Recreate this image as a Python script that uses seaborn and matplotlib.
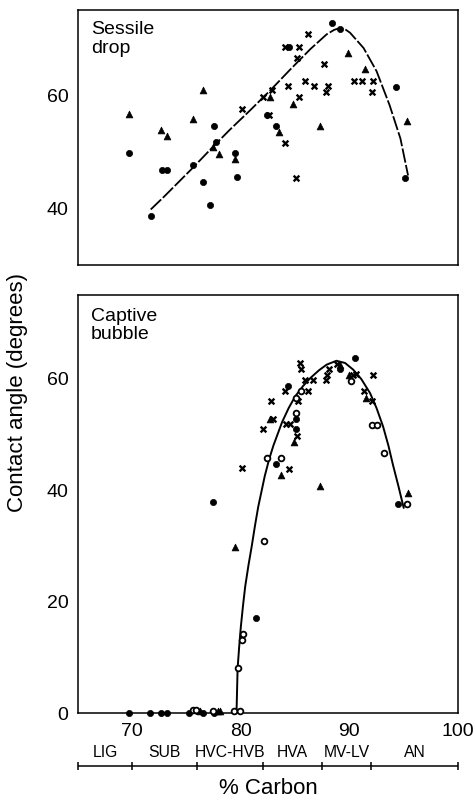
import matplotlib
matplotlib.use("Agg")
import matplotlib.pyplot as plt
import seaborn as sns

sns.set_style("white")
plt.rcParams['font.family'] = ['Liberation Sans', 'DejaVu Sans']
plt.rcParams['text.color'] = 'black'
plt.rcParams['axes.labelcolor'] = 'black'
plt.rcParams['xtick.color'] = 'black'
plt.rcParams['ytick.color'] = 'black'

# ---------------- Sessile drop (top panel) ----------------
sd_tri_x = [69.7, 72.6, 73.2, 75.6, 76.5, 77.4, 78.0, 79.5, 82.7, 83.5, 84.8, 87.3, 89.9, 91.4, 95.3]
sd_tri_y = [56.6, 53.75, 52.7, 55.7, 60.8, 50.8, 49.6, 48.7, 59.6, 53.4, 58.5, 54.5, 67.4, 64.6, 55.4]

sd_dot_x = [69.7, 71.7, 72.7, 73.2, 75.6, 76.5, 77.2, 77.5, 77.7, 79.5, 79.6, 82.4, 83.2, 84.4, 88.4, 89.1, 94.3, 95.1]
sd_dot_y = [49.7, 38.7, 46.7, 46.7, 47.7, 44.6, 40.6, 54.6, 51.7, 49.8, 45.5, 56.5, 54.5, 68.5, 72.7, 71.7, 61.4, 45.3]

sd_cross_x = [80.1, 82.0, 82.6, 82.9, 84.1, 84.1, 84.3, 85.05, 85.2, 85.4, 85.4, 85.9, 86.2, 86.7,
              87.7, 87.8, 88.05, 90.4, 91.2, 92.2, 92.05]
sd_cross_y = [57.5, 59.6, 56.5, 60.8, 68.5, 51.5, 61.6, 45.4, 66.55, 68.5, 59.6, 62.55, 70.7, 61.6,
              65.5, 60.6, 61.6, 62.55, 62.55, 62.55, 60.5]

sd_curve_x = [71.7, 73.0, 75.6, 77.3, 79.0, 80.8, 82.7, 84.5, 86.4, 87.9, 88.6, 89.1, 89.6, 90.05,
              91.3, 92.5, 93.7, 94.7, 95.4]
sd_curve_y = [39.8, 42.2, 47.2, 50.6, 53.9, 57.2, 60.8, 64.4, 68.1, 70.7, 71.5, 71.8, 71.6, 71.0,
              68.3, 64.2, 58.2, 52.3, 45.8]

# ---------------- Captive bubble (bottom panel) ----------------
cb_dot_x = [69.7, 71.6, 72.6, 73.2, 75.2, 76.0, 76.5, 77.5, 77.4, 81.4, 83.2, 84.3, 85.05, 85.05,
            89.1, 90.5, 94.5]
cb_dot_y = [0.0, 0.0, 0.0, 0.0, 0.0, 0.3, 0.0, 0.0, 37.9, 17.1, 44.7, 58.7, 52.7, 50.9,
            61.7, 63.7, 37.5]

cb_open_x = [75.6, 75.9, 77.4, 79.4, 79.9, 79.7, 80.1, 80.2, 82.1, 82.4, 83.7, 85.05, 85.1, 85.5,
             90.1, 92.1, 92.5, 93.2, 95.3]
cb_open_y = [0.5, 0.6, 0.4, 0.3, 0.3, 8.0, 13.1, 14.1, 30.8, 45.7, 45.8, 53.8, 56.6, 57.7,
             59.6, 51.7, 51.7, 46.6, 37.5]

cb_tri_x = [76.2, 77.9, 78.1, 79.5, 82.7, 83.7, 84.9, 87.3, 89.1, 90.0, 91.5, 95.4]
cb_tri_y = [0.3, 0.3, 0.4, 29.7, 52.8, 42.7, 48.7, 40.8, 62.4, 60.6, 56.5, 39.5]

cb_cross_x = [80.1, 82.0, 82.75, 82.95, 84.1, 84.2, 84.4, 84.5, 85.2, 85.3, 85.45, 85.5, 85.9,
              86.2, 86.6, 87.8, 87.95, 88.1, 88.9, 90.35, 90.6, 91.3, 92.05, 92.2]
cb_cross_y = [43.9, 50.9, 55.9, 52.8, 57.7, 51.8, 43.7, 51.8, 49.7, 55.9, 62.8, 61.7, 59.7,
              57.7, 59.8, 59.7, 60.7, 61.7, 62.6, 60.7, 60.8, 57.7, 55.9, 60.7]

cb_curve_x = [79.6, 79.7, 79.85, 80.0, 80.2, 80.4, 80.7, 81.0, 81.3, 81.6, 82.2, 82.6, 83.0,
              83.8, 84.4, 85.0, 85.7, 86.4, 87.2, 87.9, 88.8, 89.6, 90.35, 91.1, 91.9,
              92.5, 93.1, 93.6, 94.0, 94.5, 95.0]
cb_curve_y = [0.0, 8.0, 12.0, 15.5, 19.3, 22.7, 26.5, 29.9, 33.6, 37.0, 42.5, 45.5, 48.0,
              52.2, 54.7, 56.8, 58.6, 60.1, 61.5, 62.5, 63.2, 62.8, 61.6, 59.9, 57.4,
              54.7, 51.4, 47.9, 44.6, 40.8, 36.8]

# ---------------- Coal rank bar ----------------
rank_bounds = [65, 70, 76, 82, 87.5, 92, 100]
rank_names = ["LIG", "SUB", "HVC-HVB", "HVA", "MV-LV", "AN"]

x_ticks_labeled = [70, 80, 90, 100]
top_yticks = [40, 50, 60, 70]
top_ylabels = ["40", "", "60", ""]
bot_yticks = [0, 10, 20, 30, 40, 50, 60, 70]
bot_ylabels = ["0", "", "20", "", "40", "", "60", ""]

fig = plt.figure(figsize=(4.77, 8.0), dpi=100)
ax1 = fig.add_axes([78 / 477, 1 - 265 / 800, 380 / 477, 255 / 800])
ax2 = fig.add_axes([78 / 477, 1 - 713 / 800, 380 / 477, 418 / 800])
ax3 = fig.add_axes([78 / 477, 1 - 775 / 800, 380 / 477, 30 / 800])


def draw_points(ax, dx, dy, tx, ty, cx, cy, ox=None, oy=None):
    sns.scatterplot(x=dx, y=dy, marker='o', s=20, color='black', edgecolor='black',
                    linewidth=0.5, ax=ax, clip_on=False, zorder=3)
    sns.scatterplot(x=tx, y=ty, marker='^', s=24, color='black', edgecolor='black',
                    linewidth=0.5, ax=ax, clip_on=False, zorder=3)
    sns.scatterplot(x=cx, y=cy, marker='x', s=17, color='black', linewidth=1.7,
                    ax=ax, clip_on=False, zorder=3)
    if ox is not None:
        sns.scatterplot(x=ox, y=oy, marker='o', s=17, facecolor='white', edgecolor='black',
                        linewidth=1.3, ax=ax, clip_on=False, zorder=3)


# Top panel
sns.lineplot(x=sd_curve_x, y=sd_curve_y, sort=False, estimator=None, color='black',
             linewidth=1.3, ax=ax1)
ax1.lines[-1].set_linestyle((0, (8, 1.3)))
draw_points(ax1, sd_dot_x, sd_dot_y, sd_tri_x, sd_tri_y, sd_cross_x, sd_cross_y)
ax1.set_xlim(65, 100)
ax1.set_ylim(30, 75)
ax1.set_xticks([70, 75, 80, 85, 90, 95])
ax1.set_xticklabels([])
ax1.set_yticks(top_yticks)
ax1.set_yticklabels(top_ylabels)
ax1.text(0.035, 0.955, "Sessile\ndrop", transform=ax1.transAxes, ha='left', va='top',
         fontsize=14, linespacing=1.1, color='black')

# Bottom panel
sns.lineplot(x=cb_curve_x, y=cb_curve_y, sort=False, estimator=None, color='black',
             linewidth=1.4, ax=ax2)
draw_points(ax2, cb_dot_x, cb_dot_y, cb_tri_x, cb_tri_y, cb_cross_x, cb_cross_y,
            cb_open_x, cb_open_y)
ax2.set_xlim(65, 100)
ax2.set_ylim(0, 75)
ax2.set_xticks(x_ticks_labeled)
ax2.set_xticklabels([str(v) for v in x_ticks_labeled])
ax2.set_yticks(bot_yticks)
ax2.set_yticklabels(bot_ylabels)
ax2.text(0.033, 0.97, "Captive\nbubble", transform=ax2.transAxes, ha='left', va='top',
         fontsize=14, linespacing=1.1, color='black')

for ax in (ax1, ax2):
    ax.set_xlabel("")
    ax.set_ylabel("")
    for sp in ax.spines.values():
        sp.set_color('black')
        sp.set_linewidth(1.1)
    ax.tick_params(direction='in', length=6, width=1.1, colors='black',
                   labelsize=14, pad=7)

# Rank bar
ax3.set_xlim(65, 100)
ax3.set_ylim(0, 1)
ax3.axis('off')
ax3.hlines(0.3, rank_bounds[0], rank_bounds[-1], color='black', linewidth=1.1, clip_on=False)
ax3.vlines(rank_bounds, 0.18, 0.43, color='black', linewidth=1.1, clip_on=False)
for i, name in enumerate(rank_names):
    mid = (rank_bounds[i] + rank_bounds[i + 1]) / 2
    ax3.text(mid, 0.74, name, ha='center', va='center', fontsize=11.3, color='black')

fig.text(268 / 477, 1 - 789 / 800, "% Carbon", ha='center', va='center', fontsize=16,
         color='black')
fig.text(18 / 477, 1 - 392 / 800, "Contact angle (degrees)", rotation=90,
         ha='center', va='center', fontsize=16, color='black')

fig.savefig("out.png", dpi=100)
